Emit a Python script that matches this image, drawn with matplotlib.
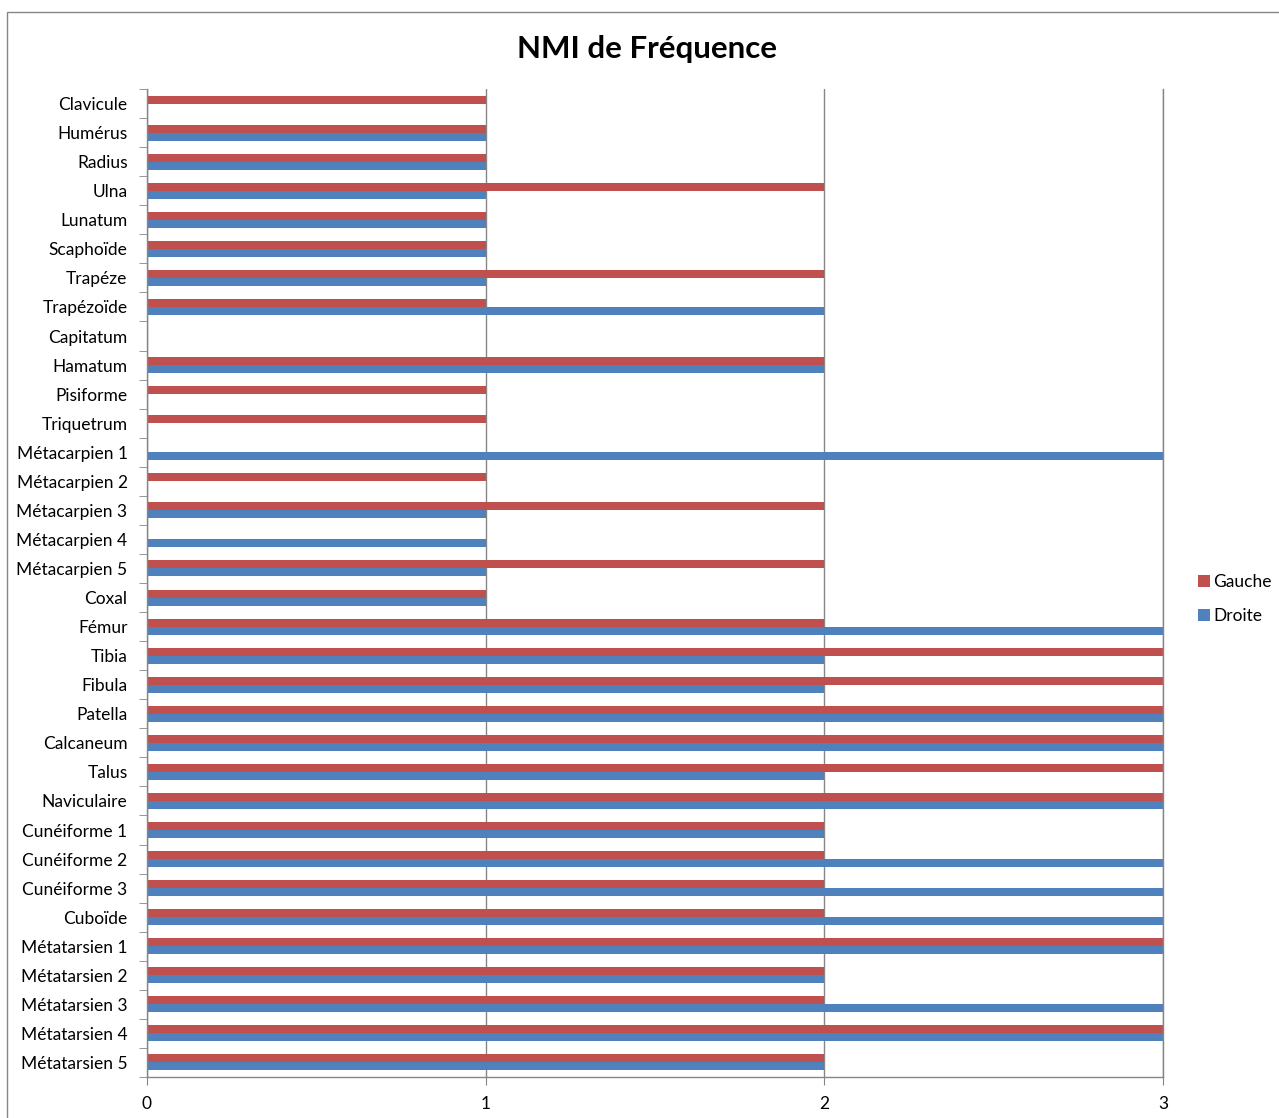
import matplotlib
matplotlib.use("Agg")
import matplotlib.pyplot as plt
from matplotlib.patches import Rectangle, Patch
import numpy as np

categories = ["Clavicule", "Humérus", "Radius", "Ulna", "Lunatum", "Scaphoïde", "Trapéze",
              "Trapézoïde", "Capitatum", "Hamatum", "Pisiforme", "Triquetrum",
              "Métacarpien 1", "Métacarpien 2", "Métacarpien 3", "Métacarpien 4",
              "Métacarpien 5", "Coxal", "Fémur", "Tibia", "Fibula", "Patella",
              "Calcaneum", "Talus", "Naviculaire", "Cunéiforme 1", "Cunéiforme 2",
              "Cunéiforme 3", "Cuboïde", "Métatarsien 1", "Métatarsien 2",
              "Métatarsien 3", "Métatarsien 4", "Métatarsien 5"]
gauche = [1, 1, 1, 2, 1, 1, 2, 1, 0, 2, 1, 1, 0, 1, 2, 0, 2, 1, 2, 3, 3, 3, 3, 3, 3,
          2, 2, 2, 2, 3, 2, 2, 3, 2]
droite = [0, 1, 1, 1, 1, 1, 1, 2, 0, 2, 0, 0, 3, 0, 1, 1, 1, 1, 3, 2, 2, 3, 3, 2, 3,
          2, 3, 3, 3, 3, 2, 3, 3, 2]
x_ticks = [0, 1, 2, 3]

RED = "#C0504D"
BLUE = "#4F81BD"
GRID = "#868686"
FONT = ["Lato", "DejaVu Sans"]
plt.rcParams['font.family'] = FONT

W, H = 1279, 1118
fig = plt.figure(figsize=(W / 100, H / 100), dpi=100)
fig.patch.set_facecolor("white")

left, right, top, bottom = 147, 1163, 89, 1077
ax = fig.add_axes([left / W, 1 - bottom / H, (right - left) / W, (bottom - top) / H])

y = np.arange(len(categories))
bh = 0.275
ax.barh(y - bh / 2, gauche, height=bh, color=RED, label="Gauche", zorder=3)
ax.barh(y + bh / 2, droite, height=bh, color=BLUE, label="Droite", zorder=3)

ax.set_xlim(0, 3)
ax.set_ylim(len(categories) - 0.5, -0.5)

ax.set_xticks(x_ticks)
ax.set_xticklabels([str(t) for t in x_ticks], fontsize=12.5)
ax.tick_params(axis='x', direction='out', length=6, color=GRID, pad=8)
ax.xaxis.grid(True, color=GRID, linewidth=1, zorder=0)

ax.set_yticks(y)
ax.set_yticklabels(categories, fontsize=12.5)
ax.tick_params(axis='y', which='major', length=0, pad=14)
ax.set_yticks(np.arange(len(categories) + 1) - 0.5, minor=True)
ax.tick_params(axis='y', which='minor', direction='out', length=6, color=GRID)

ax.spines["top"].set_visible(False)
for s in ["left", "bottom", "right"]:
    ax.spines[s].set_color(GRID)
    ax.spines[s].set_linewidth(1)
    ax.spines[s].set_zorder(4)

fig.text(647 / W, 1 - 49 / H, "NMI de Fréquence", ha="center", va="center",
         fontsize=22.5, fontweight="bold")

handles = [Patch(facecolor=RED, label="Gauche"), Patch(facecolor=BLUE, label="Droite")]
fig.legend(handles=handles, loc="center left", bbox_to_anchor=(1182 / W, 1 - 599 / H),
           frameon=False, fontsize=12.5, handlelength=0.7, handleheight=0.7,
           handletextpad=0.2, labelspacing=1.0)

fig.add_artist(Rectangle((7 / W, -0.1), 2, 1 - 12 / H + 0.1, transform=fig.transFigure,
                         fill=False, edgecolor=GRID, linewidth=1))

fig.savefig("out.png", dpi=100)
